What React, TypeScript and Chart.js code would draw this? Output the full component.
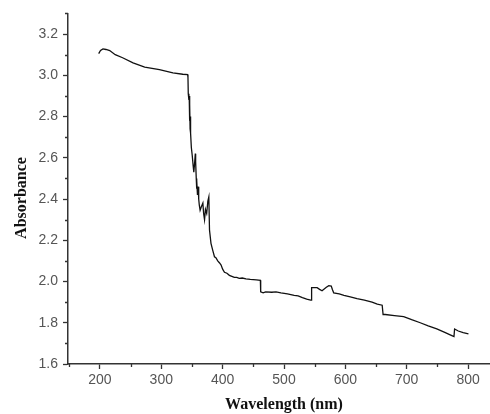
import { useEffect, useRef } from "react";
import { Chart, registerables } from "chart.js";

Chart.register(...registerables);

const wavelength = [
  198, 201, 205, 210, 216, 225, 237, 254, 273, 297, 319, 335, 343,
  343.5, 344, 345, 345.5, 346, 346.5, 347, 347.5, 348, 349, 350.5, 352, 353, 354.5, 355.5, 356, 357, 357.5, 358, 359, 360, 361, 362, 363.3, 365, 367.8, 369, 370.5, 372, 374, 375.9, 377.5, 378.6, 381, 384, 386.7, 389, 392, 395, 397.5, 400, 403, 407, 411, 415, 419, 423, 427, 432, 438, 445, 455, 461.5,
  462, 466, 470, 480, 487, 495, 505.6, 516.6, 523, 530, 537, 543.5, 544.5,
  545, 554, 558, 562, 566, 569, 573, 577, 579, 581, 590, 597.7, 608, 619, 631, 643.5, 652, 660,
  661.5, 665, 680, 695, 708, 722, 735, 749, 762, 773.5, 777, 778, 784, 792, 800.6,
];
const absorbance = [
  3.105, 3.12, 3.128, 3.125, 3.12, 3.1, 3.085, 3.06, 3.04, 3.027, 3.012, 3.005, 3.003,
  2.99, 2.91, 2.88, 2.9, 2.78, 2.86, 2.74, 2.8, 2.72, 2.65, 2.61, 2.56, 2.53, 2.58, 2.62, 2.58, 2.5, 2.45, 2.49, 2.42, 2.46, 2.4, 2.37, 2.345, 2.36, 2.38, 2.33, 2.3, 2.35, 2.33, 2.39, 2.41, 2.25, 2.185, 2.15, 2.12, 2.115, 2.1, 2.09, 2.08, 2.06, 2.045, 2.04, 2.03, 2.025, 2.02, 2.02, 2.015, 2.017, 2.013, 2.01, 2.008, 2.006,
  1.95, 1.945, 1.95, 1.948, 1.95, 1.945, 1.94, 1.933, 1.93, 1.922, 1.915, 1.91, 1.91,
  1.97, 1.97, 1.962, 1.955, 1.965, 1.972, 1.98, 1.978, 1.96, 1.945, 1.94, 1.933, 1.925, 1.917, 1.91, 1.9, 1.89, 1.885,
  1.84, 1.84, 1.835, 1.83, 1.815, 1.8, 1.785, 1.77, 1.753, 1.738, 1.733, 1.77, 1.76, 1.752, 1.746,
];

const xTicks = [200, 300, 400, 500, 600, 700, 800];
const yTicks = [1.6, 1.8, 2.0, 2.2, 2.4, 2.6, 2.8, 3.0, 3.2];
const xMinorTicks = [150, 250, 350, 450, 550, 650, 750, 850];
const yMinorTicks = [1.7, 1.9, 2.1, 2.3, 2.5, 2.7, 2.9, 3.1, 3.3];

const xTitle = "Wavelength (nm)";
const yTitle = "Absorbance";

const AXIS_COLOR = "#333";
const TICK_COLOR = "#555";
const TITLE_FONT = "bold 16px 'Liberation Serif', 'Times New Roman', serif";

const minorTicksPlugin = {
  id: "minorTicks",
  afterDraw(chart: any) {
    const ctx = chart.ctx;
    const xs = chart.scales.x;
    const ys = chart.scales.y;
    ctx.save();
    ctx.strokeStyle = AXIS_COLOR;
    ctx.lineWidth = 1.3;
    ctx.beginPath();
    for (const v of xMinorTicks) {
      if (v < xs.min || v > xs.max) continue;
      const px = Math.round(xs.getPixelForValue(v)) + 0.5;
      ctx.moveTo(px, ys.bottom);
      ctx.lineTo(px, ys.bottom + 3);
    }
    for (const v of yMinorTicks) {
      if (v < ys.min - 1e-9 || v > ys.max + 1e-9) continue;
      const py = Math.round(ys.getPixelForValue(v)) + 0.5;
      ctx.moveTo(xs.left, py);
      ctx.lineTo(xs.left - 3, py);
    }
    ctx.stroke();

    // axis titles
    ctx.fillStyle = "#111";
    ctx.font = TITLE_FONT;
    ctx.textAlign = "center";
    ctx.textBaseline = "middle";
    ctx.fillText(xTitle, 284, 405);
    ctx.translate(22, 198);
    ctx.rotate(-Math.PI / 2);
    ctx.fillText(yTitle, 0, 0);
    ctx.restore();
  },
};

export default function App() {
  const ref = useRef<HTMLCanvasElement>(null);

  useEffect(() => {
    if (!ref.current) return;
    const points = wavelength.map((x, i) => ({ x, y: absorbance[i] }));
    const chart = new Chart(ref.current, {
      type: "line",
      data: {
        datasets: [
          {
            data: points,
            borderColor: "#111",
            borderWidth: 1.3,
            pointRadius: 0,
            tension: 0,
            fill: false,
          },
        ],
      },
      options: {
        animation: false,
        responsive: false,
        devicePixelRatio: 1,
        layout: { padding: { top: 12, right: 0, left: 0, bottom: 0 } },
        plugins: { legend: { display: false }, tooltip: { enabled: false } },
        scales: {
          x: {
            type: "linear",
            min: 148,
            max: 852,
            afterFit: (s: any) => {
              s.height = 50;
            },
            afterBuildTicks: (s: any) => {
              s.ticks = xTicks.map((v) => ({ value: v }));
            },
            border: { display: true, color: AXIS_COLOR, width: 1.5 },
            grid: {
              drawOnChartArea: false,
              drawTicks: true,
              tickLength: 5,
              tickColor: AXIS_COLOR,
              tickWidth: 1.3,
            },
            ticks: {
              color: TICK_COLOR,
              font: { family: "Liberation Sans, Arial", size: 14 },
              padding: 3,
              maxRotation: 0,
              autoSkip: false,
              callback: (v: any) => String(v),
            },
            title: { display: false },
          },
          y: {
            type: "linear",
            min: 1.6,
            max: 3.3,
            afterFit: (s: any) => {
              s.width = 68;
            },
            afterBuildTicks: (s: any) => {
              s.ticks = yTicks.map((v) => ({ value: v }));
            },
            border: { display: true, color: AXIS_COLOR, width: 1.5 },
            grid: {
              drawOnChartArea: false,
              drawTicks: true,
              tickLength: 5,
              tickColor: AXIS_COLOR,
              tickWidth: 1.3,
            },
            ticks: {
              color: TICK_COLOR,
              font: { family: "Liberation Sans, Arial", size: 14 },
              padding: 5,
              autoSkip: false,
              callback: (v: any) => Number(v).toFixed(1),
            },
            title: { display: false },
          },
        },
      },
      plugins: [minorTicksPlugin],
    });
    return () => chart.destroy();
  }, []);

  return (
    <div
      style={{
        position: "absolute",
        left: 0,
        top: 0,
        width: 490,
        height: 414,
        overflow: "hidden",
        background: "#fff",
      }}
    >
      <canvas ref={ref} width={500} height={414} style={{ width: 500, height: 414, display: "block" }} />
    </div>
  );
}
